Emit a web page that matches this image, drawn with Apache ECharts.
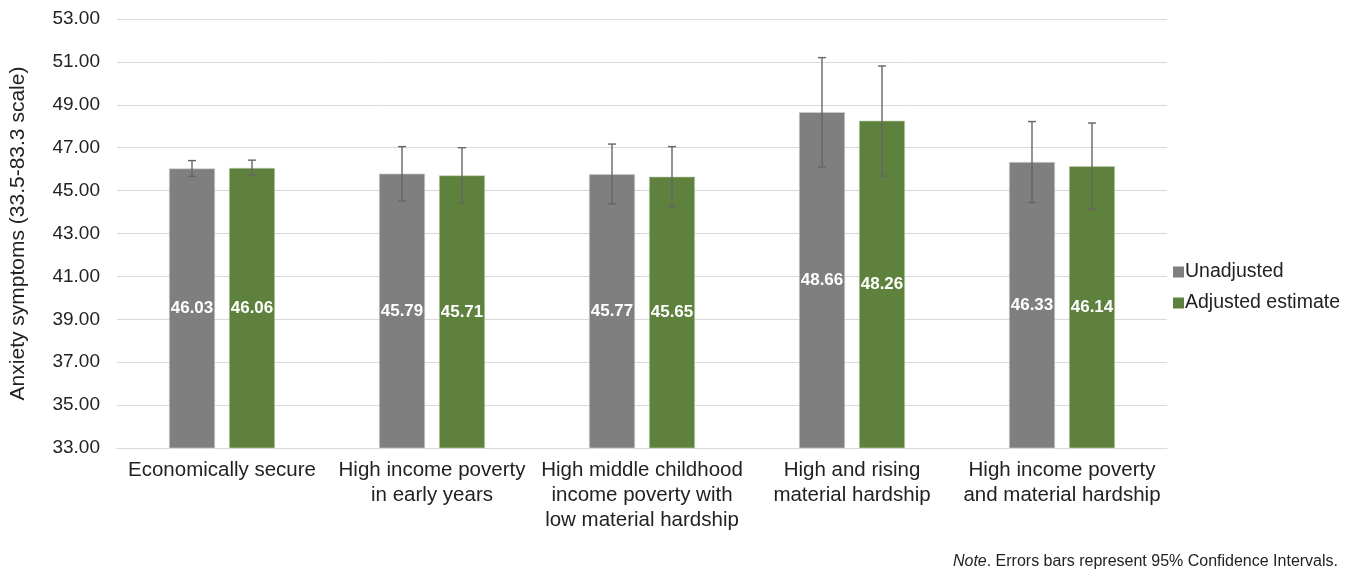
<!DOCTYPE html>
<html>
<head>
<meta charset="utf-8">
<script src="https://cdn.jsdelivr.net/npm/echarts@6/dist/echarts.min.js"></script>
<style>
  html, body { margin: 0; padding: 0; background: #fff; }
  #chart { width: 1350px; height: 569px; }
</style>
</head>
<body>
<div id="chart"></div>
<script>
// Profiles of childhood economic hardship
const categories = [
  'Economically secure',
  'High income poverty\nin early years',
  'High middle childhood\nincome poverty with\nlow material hardship',
  'High and rising\nmaterial hardship',
  'High income poverty\nand material hardship'
];

// Mean anxiety symptoms
const unadjusted = [46.03, 45.79, 45.77, 48.66, 46.33];
const adjusted = [46.06, 45.71, 45.65, 48.26, 46.14];

// 95% confidence intervals
const unadjustedLow = [45.66, 44.52, 44.38, 46.10, 44.44];
const unadjustedHigh = [46.40, 47.05, 47.17, 51.20, 48.22];
const adjustedLow = [45.70, 44.42, 44.22, 45.68, 44.13];
const adjustedHigh = [46.42, 47.00, 47.05, 50.81, 48.15];

const FONT = '"Liberation Sans", Arial, Helvetica, sans-serif';
const BAR_W = 46;
const BAR_GAP = 14;

function errorBars(low, high, side) {
  return {
    type: 'custom',
    silent: true,
    z: 5,
    data: low.map((l, i) => [i, l, high[i]]),
    encode: { x: 0, y: [1, 2] },
    renderItem: function (params, api) {
      const i = api.value(0);
      const pLow = api.coord([i, api.value(1)]);
      const pHigh = api.coord([i, api.value(2)]);
      const x = pLow[0] + side * (BAR_W + BAR_GAP) / 2;
      const cap = 4;
      const style = { stroke: '#666666', lineWidth: 1.4 };
      return {
        type: 'group',
        children: [
          { type: 'line', shape: { x1: x, y1: pLow[1], x2: x, y2: pHigh[1] }, style },
          { type: 'line', shape: { x1: x - cap, y1: pHigh[1], x2: x + cap, y2: pHigh[1] }, style },
          { type: 'line', shape: { x1: x - cap, y1: pLow[1], x2: x + cap, y2: pLow[1] }, style }
        ]
      };
    }
  };
}

const valueLabel = {
  show: true,
  position: 'inside',
  color: '#fff',
  fontFamily: FONT,
  fontWeight: 'bold',
  fontSize: 17,
  formatter: p => p.value.toFixed(2)
};

const chart = echarts.init(document.getElementById('chart'));
chart.setOption({
  animation: false,
  backgroundColor: '#fff',
  textStyle: { fontFamily: FONT },
  grid: { left: 117, right: 183, top: 19, bottom: 121 },
  legend: {
    orient: 'vertical',
    left: 1168,
    top: 257,
    itemWidth: 11,
    itemHeight: 11,
    itemGap: 11,
    icon: 'rect',
    itemStyle: { borderWidth: 0 },
    textStyle: { fontFamily: FONT, fontSize: 19.5, color: '#222', padding: [0, 0, 0, -4] },
    data: ['Unadjusted', 'Adjusted estimate']
  },
  xAxis: {
    type: 'category',
    data: categories,
    axisLine: { lineStyle: { color: '#d9d9d9', width: 1 } },
    axisTick: { show: false },
    axisLabel: {
      interval: 0,
      margin: 10,
      fontFamily: FONT,
      fontSize: 20.5,
      lineHeight: 25,
      color: '#222'
    }
  },
  yAxis: {
    type: 'value',
    min: 33,
    max: 53,
    interval: 2,
    name: 'Anxiety symptoms (33.5-83.3 scale)',
    nameLocation: 'middle',
    nameGap: 88,
    nameTextStyle: { fontFamily: FONT, fontSize: 21, color: '#222' },
    axisLine: { show: false },
    axisTick: { show: false },
    splitLine: { lineStyle: { color: '#d9d9d9', width: 1 } },
    axisLabel: {
      margin: 17,
      fontFamily: FONT,
      fontSize: 19,
      color: '#222',
      formatter: v => v.toFixed(2)
    }
  },
  series: [
    {
      name: 'Unadjusted',
      type: 'bar',
      data: unadjusted,
      barWidth: BAR_W,
      barGap: (BAR_GAP / BAR_W * 100).toFixed(1) + '%',
      itemStyle: { color: '#7f7f7f', borderColor: '#d4d4d4', borderWidth: 0.6 },
      label: valueLabel
    },
    {
      name: 'Adjusted estimate',
      type: 'bar',
      data: adjusted,
      barWidth: BAR_W,
      itemStyle: { color: '#5e823d', borderColor: '#c6d6b8', borderWidth: 0.6 },
      label: valueLabel
    },
    errorBars(unadjustedLow, unadjustedHigh, -1),
    errorBars(adjustedLow, adjustedHigh, 1)
  ],
  graphic: [
    {
      type: 'text',
      right: 12,
      top: 554,
      style: {
        text: '{i|Note}. Errors bars represent 95% Confidence Intervals.',
        fontFamily: FONT,
        fontSize: 16,
        fill: '#222',
        rich: {
          i: { fontStyle: 'italic', fontFamily: FONT, fontSize: 16, fill: '#222' }
        }
      }
    }
  ]
});
</script>
</body>
</html>
